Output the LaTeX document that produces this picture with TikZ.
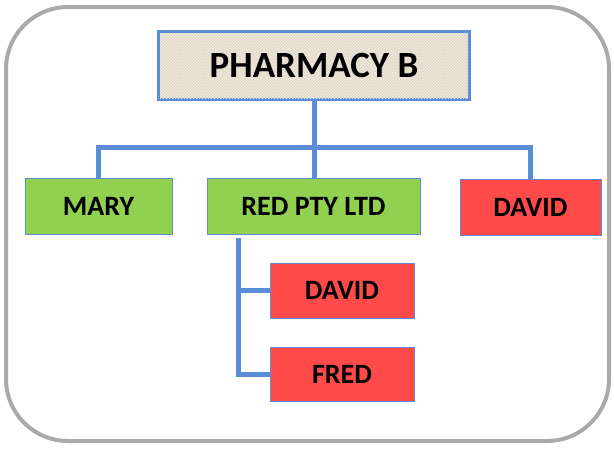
\documentclass[tikz,border=0pt]{standalone}
\usepackage{fontspec}
\setmainfont{Carlito}
\usetikzlibrary{patterns}

\definecolor{linkblue}{RGB}{91,141,214}
\definecolor{boxgreen}{RGB}{146,208,80}
\definecolor{boxred}{RGB}{255,74,74}
\definecolor{burlap}{RGB}{222,212,192}
\definecolor{framegray}{RGB}{170,170,170}

\tikzset{
  member/.style={draw=linkblue, line width=1pt, minimum height=56pt,
    font=\fontsize{28}{32}\selectfont\bfseries, inner sep=0pt},
  person/.style={member, fill=boxred},
  firm/.style={member, fill=boxgreen},
  link/.style={draw=linkblue, line width=5pt},
}

\begin{document}
\begin{tikzpicture}[x=1pt, y=-1pt]
    \useasboundingbox (0,0) rectangle (614,448);
    % Outer frame
    \draw [framegray, line width=4pt, rounded corners=62pt] (6,7) rectangle (609,441);
    % Top box
    \node [draw=linkblue, line width=3pt, fill=burlap, minimum width=311pt, minimum height=68pt,
      inner sep=0pt] (pharm) at (314,65.5) {};
    \fill [pattern=crosshatch, pattern color=white!55!burlap] (160,33) rectangle (468,98);
    \node [font=\fontsize{37}{42}\selectfont\bfseries] at (pharm.center) {PHARMACY B};
    % Shareholders
    \node [firm, minimum width=147pt] (mary) at (98.5,206.5) {MARY};
    \node [firm, minimum width=213pt] (red) at (313.5,206.5) {RED PTY LTD};
    \node [person, minimum width=141pt] (davidr) at (530.5,207) {DAVID};
    % Owners of the company
    \node [person, minimum width=144pt, minimum height=55pt] (davidc) at (342,290.5) {DAVID};
    \node [person, minimum width=144pt, minimum height=54pt] (fred) at (342,374) {FRED};
    % Connectors
    \coordinate (bus) at (0,147);
    \coordinate (sub) at (238,238);
    \draw [link] (mary.north) -- (mary.north |- bus) -- (davidr.north |- bus) -- (davidr.north);
    \draw [link] (pharm.south) -- (pharm.south |- red.north);
    \draw [link] (sub) -- (sub |- fred.west) -- (fred.west);
    \draw [link] (sub |- davidc.west) -- (davidc.west);
\end{tikzpicture}
\end{document}
